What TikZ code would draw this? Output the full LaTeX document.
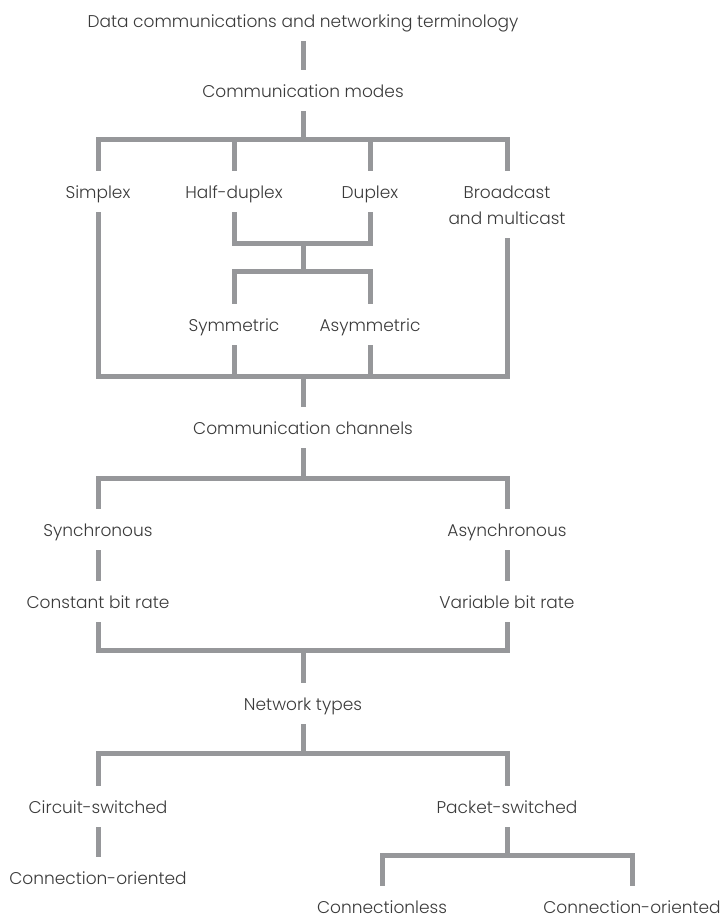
\documentclass[tikz,border=0pt]{standalone}
\usepackage{fontspec}
\setmainfont{Poppins}[UprightFont=* Light]
\definecolor{treegray}{RGB}{150,151,154}
\definecolor{labelgray}{RGB}{58,58,58}

\begin{document}
\begin{tikzpicture}[x=1pt,y=-1pt]
  \tikzstyle{LabelStyle}=[anchor=base,inner xsep=0pt,inner ysep=14pt,text height=13pt,text depth=0pt,text=labelgray,font=\fontsize{17}{26}\selectfont]
  \tikzstyle{TreeStyle}=[draw=treegray,line width=5pt]
  \useasboundingbox (0,0) rectangle (723,919);
  \node[LabelStyle] (data) at (303,27) {Data communications and networking terminology};
  \node[LabelStyle] (modes) at (303,97) {Communication modes};
  \node[LabelStyle] (simplex) at (98,198) {Simplex};
  \node[LabelStyle] (halfdup) at (234,198) {Half-duplex};
  \node[LabelStyle] (duplex) at (370,198) {Duplex};
  % baseline of the last line
  \node[LabelStyle,align=center,text height=39pt] (broadcast) at (507,224) {Broadcast\\and multicast};
  \node[LabelStyle] (symm) at (234,331) {Symmetric};
  \node[LabelStyle] (asymm) at (370,331) {Asymmetric};
  \node[LabelStyle] (channels) at (303,434) {Communication channels};
  \node[LabelStyle] (sync) at (98,536) {Synchronous};
  \node[LabelStyle] (async) at (507,536) {Asynchronous};
  \node[LabelStyle] (constant) at (98,608) {Constant bit rate};
  \node[LabelStyle] (variable) at (507,608) {Variable bit rate};
  \node[LabelStyle] (network) at (303,710) {Network types};
  \node[LabelStyle] (circuit) at (98,813) {Circuit-switched};
  \node[LabelStyle] (packet) at (507,813) {Packet-switched};
  \node[LabelStyle] (orientedA) at (98,884) {Connection-oriented};
  \node[LabelStyle] (connless) at (382,913) {Connectionless};
  \node[LabelStyle] (orientedB) at (632,913) {Connection-oriented};
  \coordinate (bar1) at (303,139);
  \coordinate (bar2) at (303,243);
  \coordinate (bar3) at (303,271);
  \coordinate (bar4) at (303,376);
  \coordinate (bar5) at (303,478);
  \coordinate (bar6) at (303,650);
  \coordinate (bar7) at (303,753);
  \coordinate (bar8) at (507,855);
  \draw[TreeStyle] (data) -- (modes);
  \draw[TreeStyle] (modes) -- (bar1);
  \draw[TreeStyle] (simplex.north) |- (bar1) -| (broadcast.north);
  \draw[TreeStyle] (halfdup) -- (halfdup |- bar1);
  \draw[TreeStyle] (duplex) -- (duplex |- bar1);
  \draw[TreeStyle] (halfdup.south) |- (bar2) -| (duplex.south);
  \draw[TreeStyle] (bar2) -- (bar3);
  \draw[TreeStyle] (symm.north) |- (bar3) -| (asymm.north);
  \draw[TreeStyle] (simplex.south) |- (bar4) -| (broadcast.south);
  \draw[TreeStyle] (symm) -- (symm |- bar4);
  \draw[TreeStyle] (asymm) -- (asymm |- bar4);
  \draw[TreeStyle] (bar4) -- (channels);
  \draw[TreeStyle] (channels) -- (bar5);
  \draw[TreeStyle] (sync.north) |- (bar5) -| (async.north);
  \draw[TreeStyle] (sync) -- (constant);
  \draw[TreeStyle] (async) -- (variable);
  \draw[TreeStyle] (constant.south) |- (bar6) -| (variable.south);
  \draw[TreeStyle] (bar6) -- (network);
  \draw[TreeStyle] (network) -- (bar7);
  \draw[TreeStyle] (circuit.north) |- (bar7) -| (packet.north);
  \draw[TreeStyle] (circuit) -- (orientedA);
  \draw[TreeStyle] (packet) -- (bar8);
  \draw[TreeStyle] (connless.north) |- (bar8) -| (orientedB.north);
\end{tikzpicture}
\end{document}
